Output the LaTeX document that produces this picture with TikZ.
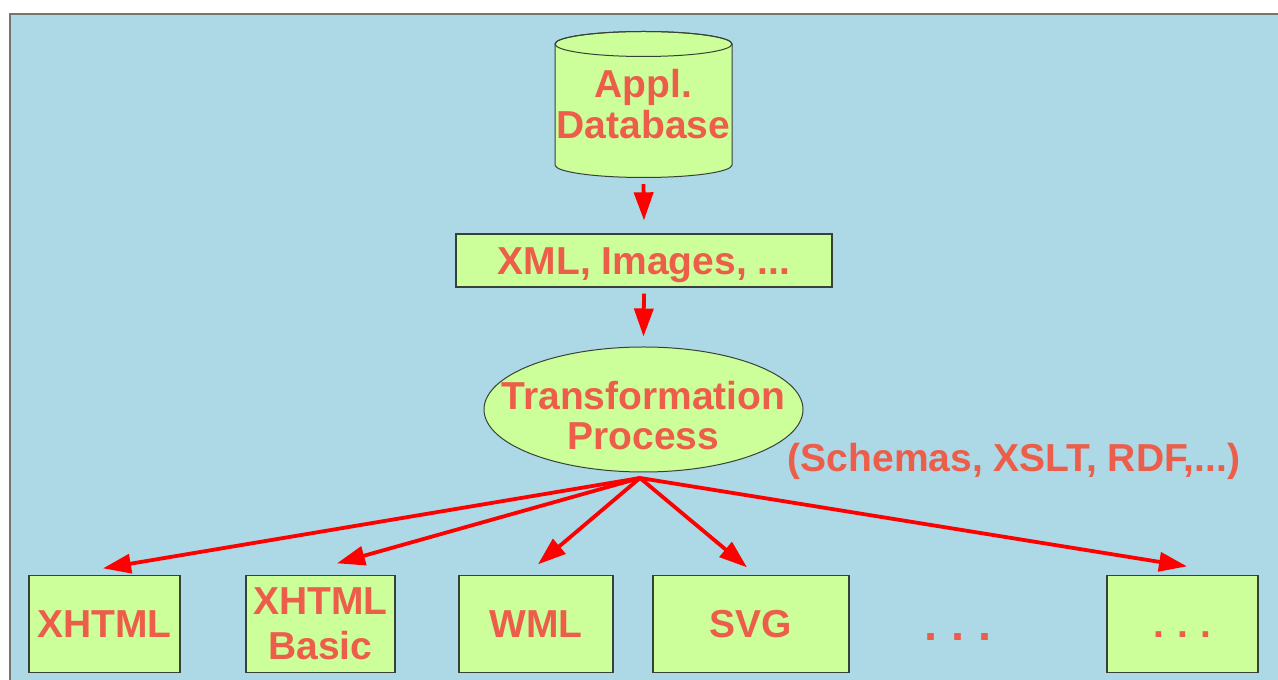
\documentclass[tikz,border=0pt]{standalone}
\usepackage{fontspec}
\setmainfont{Liberation Sans}
\usetikzlibrary{shapes.geometric,arrows.meta}
\definecolor{bgblue}{RGB}{173,216,230}
\definecolor{boxgreen}{RGB}{204,255,153}
\definecolor{txtred}{RGB}{236,94,74}
\definecolor{framegray}{RGB}{118,118,108}
\definecolor{edgegray}{RGB}{55,65,55}
\tikzset{
  lbl/.style={text=txtred, font=\bfseries\fontsize{39}{45}\selectfont, inner sep=0pt},
  outbox/.style={draw=edgegray, line width=1.3pt, fill=boxgreen, inner sep=0pt,
     text=txtred, font=\bfseries\fontsize{39}{45}\selectfont, align=center, minimum height=97pt},
  flow/.style={draw=red, line width=3.8pt, -{Triangle[length=28pt,width=19pt]}},
}
\begin{document}
\begin{tikzpicture}[x=1pt,y=1pt]
\useasboundingbox (0,0) rectangle (1278,680);
% panel
\fill[white] (0,0) rectangle (1278,680);
\draw[framegray, line width=2pt, fill=bgblue] (1300,666) -- (10,666) -- (10,-20) -- (1300,-20);
% cylinder
\draw[edgegray, line width=1pt, fill=boxgreen]
  (555,636) -- (555,515) arc[start angle=180,end angle=360,x radius=88.5,y radius=12.5]
  -- (732,636) arc[start angle=0,end angle=180,x radius=88.5,y radius=12.5] -- cycle;
\draw[edgegray, line width=1pt] (643.5,636) ellipse[x radius=88.5,y radius=12.5];
\node[lbl, align=center, minimum width=177pt, minimum height=146pt,
      font=\bfseries\fontsize{39}{41}\selectfont] (db) at (643.5,575.5) {Appl.\\Database};
% XML box
\node[outbox, minimum width=376pt, minimum height=53pt, text height=28pt, text depth=0pt]
  (xml) at (644,419.5) {XML, Images, ...};
% transformation ellipse
\node[ellipse, draw=edgegray, line width=1pt, fill=boxgreen, inner sep=0pt,
      minimum width=319pt, minimum height=125pt] (tp) at (643.5,270.5) {};
\node[lbl, align=center, font=\bfseries\fontsize{39}{40}\selectfont] (tpt) at (643.5,264) {Transformation\\Process};
\node[lbl, anchor=base] (schem) at (1014,208) {(Schemas, XSLT, RDF,...)};
% output boxes
\node[outbox, minimum width=151pt, text height=28pt, text depth=0pt] (x1) at (104.5,56) {XHTML};
\node[outbox, minimum width=149pt] (x2) at (320.5,56) {XHTML\\Basic};
\node[outbox, minimum width=154pt, text height=28pt, text depth=0pt] (wml) at (536,56) {WML};
\node[outbox, minimum width=196pt, text height=28pt, text depth=0pt] (svg) at (751,56) {SVG};
\node[outbox, minimum width=151pt, text height=28pt, text depth=0pt] (more) at (1182.5,56) {.\hspace{12.5pt}.\hspace{12.5pt}.};
\node[lbl, anchor=base, font=\bfseries\fontsize{47}{50}\selectfont] (etc) at (958,39.5) {.\hspace{14pt}.\hspace{14pt}.};
% arrows
\coordinate (src) at (640,202);
\draw[flow] ([yshift=-6.5pt]db.south) -- ([yshift=13pt]xml.north);
\draw[flow] ([yshift=-6pt]xml.south) -- ([yshift=10pt]tp.north);
\draw[flow] (src) -- ([xshift=-1.5pt,yshift=6.5pt]x1.north);
\draw[flow] (src) -- ([xshift=16.5pt,yshift=11.5pt]x2.north);
\draw[flow] (src) -- ([xshift=2pt,yshift=10.5pt]wml.north);
\draw[flow] (src) -- ([xshift=-4pt,yshift=7.5pt]svg.north);
\draw[flow] (src) -- ([xshift=4.5pt,yshift=8.5pt]more.north);
\end{tikzpicture}
\end{document}
